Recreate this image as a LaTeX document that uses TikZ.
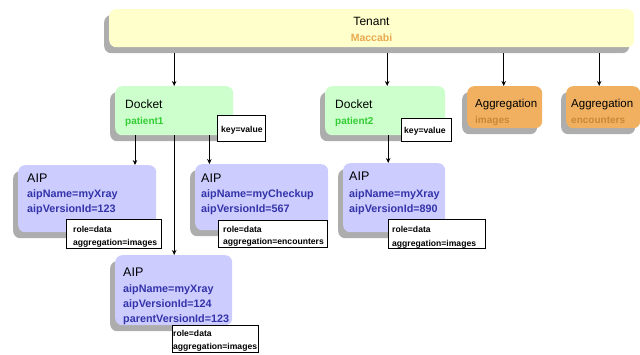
\documentclass[tikz,border=0pt]{standalone}
\usepackage{fontspec}
\setmainfont{Liberation Sans}
\usetikzlibrary{arrows.meta,shadows}

\definecolor{tenantfill}{RGB}{255,255,204}
\definecolor{maccabi}{RGB}{232,168,80}
\definecolor{docketfill}{RGB}{204,255,204}
\definecolor{patient}{RGB}{51,204,51}
\definecolor{aggfill}{RGB}{240,176,96}
\definecolor{aggtext}{RGB}{200,136,58}
\definecolor{aipfill}{RGB}{204,204,255}
\definecolor{aiptext}{RGB}{51,51,170}

\tikzset{
  boxshadow/.style={drop shadow={shadow xshift=-5pt,shadow yshift=-6pt,fill=black!32,opacity=1}},
  entity/.style={boxshadow, rounded corners=7pt, anchor=north west, inner sep=0pt},
  tenantbox/.style={entity, fill=tenantfill},
  docketbox/.style={entity, fill=docketfill},
  aggbox/.style={entity, fill=aggfill},
  aipbox/.style={entity, fill=aipfill},
  tagbox/.style={draw=black, line width=0.6pt, fill=white, anchor=north west, inner sep=0pt},
  txt/.style={anchor=base west, inner sep=0pt},
  headtext/.style={txt, font=\fontsize{12}{14}\selectfont},
  idtext/.style={txt, font=\bfseries\fontsize{10}{12}\selectfont},
  aipline/.style={txt, text=aiptext, font=\bfseries\fontsize{10.8}{12}\selectfont},
  tagtext/.style={txt, font=\bfseries\fontsize{8.6}{10}\selectfont},
  arr/.style={-{Stealth[length=5pt,width=4.5pt]}, line width=0.9pt}
}

\begin{document}
\begin{tikzpicture}[x=1pt,y=-1pt]
\useasboundingbox (0,0) rectangle (640,354);

% tenant
\node[tenantbox, minimum width=525pt, minimum height=38pt] (tenant) at (109,9) {};
\node[anchor=base, inner sep=0pt, font=\fontsize{12}{14}\selectfont] (tenantname) at (371.5,25) {Tenant};
\node[anchor=base, inner sep=0pt, font=\bfseries\fontsize{10.5}{12}\selectfont, text=maccabi] (tenantid) at (371.5,41) {Maccabi};

% dockets
\node[docketbox, minimum width=118pt, minimum height=49pt] (d1) at (115,86) {};
\node[headtext] (d1name) at (125,108) {Docket};
\node[idtext, text=patient] (d1id) at (125,124) {patient1};
\node[tagbox, minimum width=48pt, minimum height=26pt] (k1) at (217,115) {};
\node[tagtext] (k1text) at (221,132) {key=value};

\node[docketbox, minimum width=120pt, minimum height=49pt] (d2) at (325,86) {};
\node[headtext] (d2name) at (335,108) {Docket};
\node[idtext, text=patient] (d2id) at (335,124) {patient2};
\node[tagbox, minimum width=50pt, minimum height=23pt] (k2) at (401,118) {};
\node[tagtext] (k2text) at (404,133) {key=value};

% aggregations
\node[aggbox, minimum width=75pt, minimum height=42pt] (ai) at (467,86) {};
\node[txt, font=\fontsize{11.5}{13}\selectfont] (ainame) at (475,107) {Aggregation};
\node[idtext, text=aggtext] (aiid) at (475,123) {images};

\node[aggbox, minimum width=74pt, minimum height=42pt] (ae) at (566,86) {};
\node[txt, font=\fontsize{11.5}{13}\selectfont] (aename) at (571,107) {Aggregation};
\node[idtext, text=aggtext] (aeid) at (571,123) {encounters};

% AIPs
\node[aipbox, minimum width=138pt, minimum height=67pt] (aip1) at (18,165) {};
\node[headtext, font=\fontsize{12.5}{14}\selectfont] (aip1h) at (27,182) {AIP};
\node[aipline] (aip1a) at (27,197) {aipName=myXray};
\node[aipline] (aip1b) at (27,212) {aipVersionId=123};
\node[tagbox, minimum width=95pt, minimum height=29pt] (r1) at (66,219) {};
\node[tagtext] (r1a) at (73,232) {role=data};
\node[tagtext] (r1b) at (73,245) {aggregation=images};

\node[aipbox, minimum width=133pt, minimum height=66pt] (aip2) at (195,164) {};
\node[headtext, font=\fontsize{12.5}{14}\selectfont] (aip2h) at (201,182) {AIP};
\node[aipline] (aip2a) at (201,197) {aipName=myCheckup};
\node[aipline] (aip2b) at (201,212) {aipVersionId=567};
\node[tagbox, minimum width=109pt, minimum height=27pt] (r2) at (218,220) {};
\node[tagtext] (r2a) at (223,232) {role=data};
\node[tagtext] (r2b) at (223,244) {aggregation=encounters};

\node[aipbox, minimum width=102pt, minimum height=69pt] (aip3) at (343,163) {};
\node[headtext, font=\fontsize{12.5}{14}\selectfont] (aip3h) at (349,180) {AIP};
\node[aipline] (aip3a) at (349,197) {aipName=myXray};
\node[aipline] (aip3b) at (349,212) {aipVersionId=890};
\node[tagbox, minimum width=97pt, minimum height=29pt] (r3) at (388,219) {};
\node[tagtext] (r3a) at (392,232) {role=data};
\node[tagtext] (r3b) at (392,246) {aggregation=images};

\node[aipbox, minimum width=117pt, minimum height=70pt] (aip4) at (115,255) {};
\node[headtext, font=\fontsize{12.5}{14}\selectfont] (aip4h) at (123,276) {AIP};
\node[aipline] (aip4a) at (123,292) {aipName=myXray};
\node[aipline] (aip4b) at (123,307) {aipVersionId=124};
\node[aipline] (aip4c) at (123,322) {parentVersionId=123};
\node[tagbox, minimum width=86pt, minimum height=27pt] (r4) at (172,325) {};
\node[tagtext] (r4a) at (173,336) {role=data};
\node[tagtext] (r4b) at (173,349) {aggregation=images};

% connectors
\draw[arr, shorten <=6pt] (tenant.south -| d1.north) -- (d1.north);
\draw[arr, shorten <=6pt] ([xshift=2pt]tenant.south -| d2.north) -- ([xshift=2pt]d2.north);
\draw[arr, shorten <=6pt] ([xshift=-1pt]tenant.south -| ai.north) -- ([xshift=-1pt]ai.north);
\draw[arr, shorten <=6pt] ([xshift=-4pt]tenant.south -| ae.north) -- ([xshift=-4pt]ae.north);
\draw[arr] ([xshift=20pt]d1.south west) -- ([xshift=20pt]d1.south west |- aip1.north);
\draw[arr] (d1.south) -- (d1.south |- aip4.north);
\draw[arr] ([xshift=-24pt]d1.south east) -- ([xshift=-24pt]d1.south east |- aip2.north);
\draw[arr] ([xshift=3pt]d2.south) -- ([xshift=3pt]d2.south |- aip3.north);
\end{tikzpicture}
\end{document}
